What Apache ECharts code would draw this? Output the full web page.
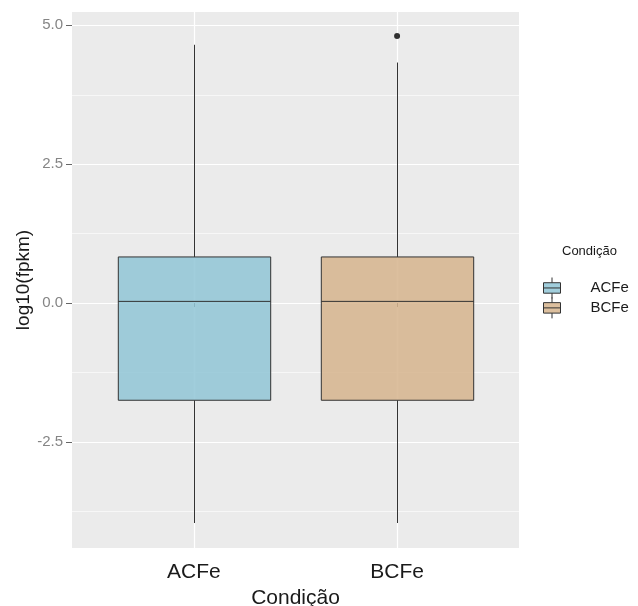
<!DOCTYPE html>
<html>
<head>
<meta charset="utf-8">
<script src="https://cdn.jsdelivr.net/npm/echarts@6/dist/echarts.min.js"></script>
<style>html,body{margin:0;padding:0;background:#fff;}#c{width:638px;height:606px;}</style>
</head>
<body>
<div id="c"></div>
<script>
// Data
const categories = ['ACFe', 'BCFe'];
// [position, min, Q1, median, Q3, max]
const statsACFe = [1, -3.96, -1.75, 0.03, 0.83, 4.65];
const statsBCFe = [2, -3.96, -1.75, 0.03, 0.83, 4.33];
const outliersBCFe = [[2, 4.81]];
const yTicks = [-2.5, 0, 2.5, 5.0];
const yMinorTicks = [-3.75, -1.25, 1.25, 3.75];
const xTicks = [1, 2];

const FONT = 'Liberation Sans, Arial, sans-serif';
const colors = { ACFe: 'rgba(144,197,214,0.85)', BCFe: 'rgba(214,180,141,0.85)' };
const legendIcon = 'path://M1,5 H14 V13 H1 Z M1,9 H14 M7.5,1 V5 M7.5,13 V17';

function renderBox(params, api) {
  const x = api.value(0);
  const pMin = api.coord([x, api.value(1)]);
  const pQ1 = api.coord([x, api.value(2)]);
  const pMed = api.coord([x, api.value(3)]);
  const pQ3 = api.coord([x, api.value(4)]);
  const pMax = api.coord([x, api.value(5)]);
  const half = api.size([0.75, 0])[0] / 2;
  const cx = Math.round(pMed[0]) + 0.5;
  const stroke = { stroke: '#333333', lineWidth: 1 };
  return {
    type: 'group',
    children: [
      { type: 'line', shape: { x1: cx, y1: pQ3[1], x2: cx, y2: pMax[1] }, style: stroke },
      { type: 'line', shape: { x1: cx, y1: pQ1[1], x2: cx, y2: pMin[1] }, style: stroke },
      { type: 'rect', shape: { x: cx - half, y: pQ3[1], width: 2 * half, height: pQ1[1] - pQ3[1] },
        style: { fill: api.visual('color'), stroke: '#333333', lineWidth: 1 } },
      { type: 'line', shape: { x1: cx - half, y1: pMed[1], x2: cx + half, y2: pMed[1] }, style: stroke }
    ]
  };
}

const chart = echarts.init(document.getElementById('c'), null, { renderer: 'canvas' });
chart.setOption({
  animation: false,
  backgroundColor: '#ffffff',
  title: {
    text: 'Condição', left: 557, top: 240,
    textStyle: { fontFamily: FONT, fontSize: 13, fontWeight: 'normal', color: '#1a1a1a' }
  },
  legend: {
    orient: 'vertical', left: 543, top: 277, itemWidth: 17, itemHeight: 21, itemGap: -2,
    padding: 0,
    textStyle: { fontFamily: FONT, fontSize: 15, color: '#1a1a1a', padding: [0, 0, 0, 25] },
    data: categories.map(c => ({ name: c, icon: legendIcon,
      itemStyle: { color: colors[c], borderColor: '#333333', borderWidth: 1 } }))
  },
  grid: {
    left: 72, right: 119, top: 12, bottom: 58,
    outerBoundsMode: 'none', containLabel: false,
    show: true, backgroundColor: '#EBEBEB', borderWidth: 0
  },
  xAxis: {
    type: 'value', min: 0.4, max: 2.6,
    name: 'Condição', nameLocation: 'middle', nameGap: 32,
    nameTextStyle: { fontFamily: FONT, fontSize: 21, color: '#1a1a1a' },
    axisLine: { show: false },
    axisTick: { show: true, customValues: xTicks, length: 4, lineStyle: { color: '#555', width: 1 } },
    axisLabel: { customValues: xTicks, formatter: v => categories[Math.round(v) - 1],
      fontFamily: FONT, fontSize: 21, color: '#1a1a1a', margin: 14 },
    splitLine: { show: true, lineStyle: { color: '#ffffff', width: 1.2 } }
  },
  yAxis: [{
    type: 'value', min: -4.41, max: 5.24,
    name: 'log10(fpkm)', nameLocation: 'middle', nameGap: 39, nameMoveOverlap: false,
    nameTextStyle: { fontFamily: FONT, fontSize: 19, color: '#1a1a1a' },
    axisLine: { show: false },
    axisTick: { show: true, customValues: yTicks, length: 6, lineStyle: { color: '#666', width: 1 } },
    axisLabel: { customValues: yTicks, formatter: v => v.toFixed(1),
      fontFamily: FONT, fontSize: 15, color: '#858585', margin: 9 },
    splitLine: { show: true, lineStyle: { color: '#ffffff', width: 1.2 } }
  }, {
    type: 'value', min: -4.41, max: 5.24, position: 'left',
    axisLine: { show: false },
    axisTick: { show: false, customValues: yMinorTicks },
    axisLabel: { show: false, customValues: yMinorTicks },
    splitLine: { show: true, lineStyle: { color: '#ffffff', width: 0.6 } }
  }],
  series: [
    { name: 'ACFe', type: 'custom', renderItem: renderBox, itemStyle: { color: colors.ACFe },
      encode: { x: 0, y: [1, 2, 3, 4, 5] }, data: [statsACFe], z: 3 },
    { name: 'BCFe', type: 'custom', renderItem: renderBox, itemStyle: { color: colors.BCFe },
      encode: { x: 0, y: [1, 2, 3, 4, 5] }, data: [statsBCFe], z: 3 },
    { name: 'outlier', type: 'scatter', data: outliersBCFe, symbolSize: 6,
      itemStyle: { color: '#000' }, z: 4 }
  ]
});
</script>
</body>
</html>
